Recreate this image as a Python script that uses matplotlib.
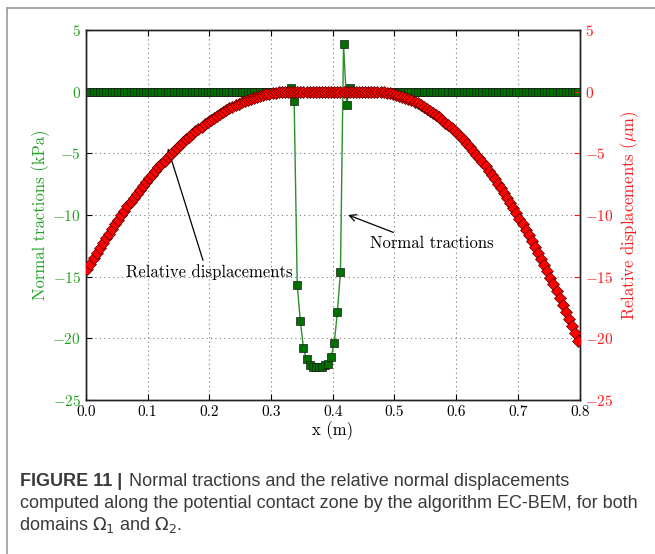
import numpy as np
import matplotlib
matplotlib.use("Agg")
import matplotlib.pyplot as plt
from matplotlib.lines import Line2D

plt.rcParams.update({"font.family": "serif", "font.serif": ["cmr10", "DejaVu Serif"],
                     "mathtext.fontset": "cm", "axes.formatter.use_mathtext": True,
                     "axes.unicode_minus": True})

# element mid-points along the potential contact zone (m)
x = np.arange(160) * 0.005 + 0.0025

# normal tractions (kPa)
traction = ([0.0] * 66 +
            [0.27, -0.78, -15.7, -18.6, -20.75, -21.7, -22.15, -22.3, -22.36, -22.36,
             -22.3, -22.2, -22.05, -21.5, -20.35, -17.9, -14.6, 3.85, -1.05, 0.3] +
            [0.0] * 74)

# relative normal displacements (um)
disp_left = [-14.37, -13.94, -13.52, -13.10, -12.70, -12.29, -11.90, -11.51, -11.12, -10.75,
             -10.37, -10.01, -9.65, -9.30, -8.96, -8.62, -8.29, -7.96, -7.65, -7.33,
             -7.03, -6.73, -6.44, -6.15, -5.87, -5.60, -5.33, -5.07, -4.82, -4.57,
             -4.33, -4.10, -3.87, -3.65, -3.43, -3.22, -3.02, -2.83, -2.64, -2.46,
             -2.28, -2.11, -1.95, -1.79, -1.65, -1.50, -1.37, -1.24, -1.11, -1.00,
             -0.88, -0.78, -0.68, -0.59, -0.51, -0.43, -0.36, -0.29, -0.23, -0.18,
             -0.14, -0.10, -0.07, -0.04, -0.02, -0.01, 0.0]
disp_mid = [0.0] * 26
disp_right = [0.0, -0.01, -0.03, -0.05, -0.09, -0.13, -0.19, -0.25, -0.32, -0.40,
              -0.50, -0.60, -0.70, -0.82, -0.95, -1.09, -1.23, -1.39, -1.55, -1.72,
              -1.91, -2.10, -2.30, -2.51, -2.73, -2.95, -3.19, -3.44, -3.69, -3.96,
              -4.23, -4.52, -4.81, -5.11, -5.42, -5.74, -6.07, -6.41, -6.75, -7.11,
              -7.48, -7.85, -8.23, -8.63, -9.03, -9.44, -9.86, -10.29, -10.73, -11.18,
              -11.63, -12.10, -12.58, -13.06, -13.55, -14.06, -14.57, -15.09, -15.62, -16.16,
              -16.71, -17.27, -17.83, -18.41, -18.99, -19.59, -20.19]
displacement = disp_left + disp_mid + disp_right

xticks = [0.0, 0.1, 0.2, 0.3, 0.4, 0.5, 0.6, 0.7, 0.8]
yticks = [-25, -20, -15, -10, -5, 0, 5]

GREEN_TXT = "#22a022"
RED_TXT = "#ff1a1a"

fig = plt.figure(figsize=(6.55, 5.54), dpi=100)
ax = fig.add_axes([0.131, 0.278, 0.754, 0.668])
ax.plot(x, traction, color="#2b8f2b", lw=1.0, marker="s", ms=5.6,
        mfc="#007000", mec="#1a1a1a", mew=0.5, zorder=3)
ax.set_xlim(0, 0.8); ax.set_ylim(-25, 5)
ax.set_xticks(xticks); ax.set_yticks(yticks)
ax.set_xticklabels([f"{t:.1f}" for t in xticks])
ax.grid(True, ls=(0, (1, 3)), color="#777777", lw=0.8)
ax.tick_params(direction="in", labelsize=11, top=True, length=4)
ax.tick_params(axis="y", colors="black", labelcolor=GREEN_TXT)
ax.set_xlabel("x (m)", fontsize=12, labelpad=2)
ax.set_ylabel("Normal tractions (kPa)", fontsize=12, color=GREEN_TXT, labelpad=2)

ax2 = ax.twinx()
ax2.plot(x, displacement, color="#ff0000", lw=1.0, marker="D", ms=6.2,
         mfc="#ff0000", mec="#500000", mew=0.5, zorder=4)
ax2.set_ylim(-25, 5); ax2.set_yticks(yticks)
ax2.tick_params(direction="in", labelsize=11, colors=RED_TXT, length=4)
ax2.set_ylabel(r"Relative displacements ($\mu$m)", fontsize=12, color=RED_TXT, labelpad=4)
for a in (ax, ax2):
    for s in a.spines.values():
        s.set_linewidth(1.0); s.set_color("#222222")

ax2.annotate("Normal tractions", xy=(0.4248, -10), xytext=(0.56, -12.3),
             fontsize=12, ha="center", va="center",
             arrowprops=dict(arrowstyle="->", color="black", lw=0.9, shrinkA=1, shrinkB=0,
                             relpos=(0.26, 1.0)))
ax2.annotate("Relative displacements", xy=(0.133, -4.6), xytext=(0.2, -14.65),
             fontsize=12, ha="center", va="center",
             arrowprops=dict(arrowstyle="->", color="black", lw=0.9, shrinkA=1, shrinkB=0,
                             relpos=(0.47, 1.0)))

# figure frame (left and top edges)
fig.add_artist(Line2D([7 / 655, 7 / 655], [0, 1 - 8 / 554], color="#9a9a9a", lw=1.2))
fig.add_artist(Line2D([7 / 655, 1], [1 - 8 / 554, 1 - 8 / 554], color="#9a9a9a", lw=1.2))

cap_kw = dict(fontsize=13, color="#3a3a3a", family=["Liberation Sans", "DejaVu Sans"],
              va="baseline", ha="left")
t = fig.text(20 / 655, 1 - 486 / 554, "FIGURE 11 |", fontweight="bold", **cap_kw)
fig.canvas.draw()
bb = t.get_window_extent()
fig.text(bb.x1 / fig.bbox.width + 0.010, 1 - 486 / 554,
         "Normal tractions and the relative normal displacements", **cap_kw)
fig.text(20 / 655, 1 - 508 / 554,
         "computed along the potential contact zone by the algorithm EC-BEM, for both", **cap_kw)
fig.text(19 / 655, 1 - 530 / 554, r"domains $\Omega_1$ and $\Omega_2$.",
         **{**cap_kw, "math_fontfamily": "dejavusans"})

fig.savefig("out.png", dpi=100)
